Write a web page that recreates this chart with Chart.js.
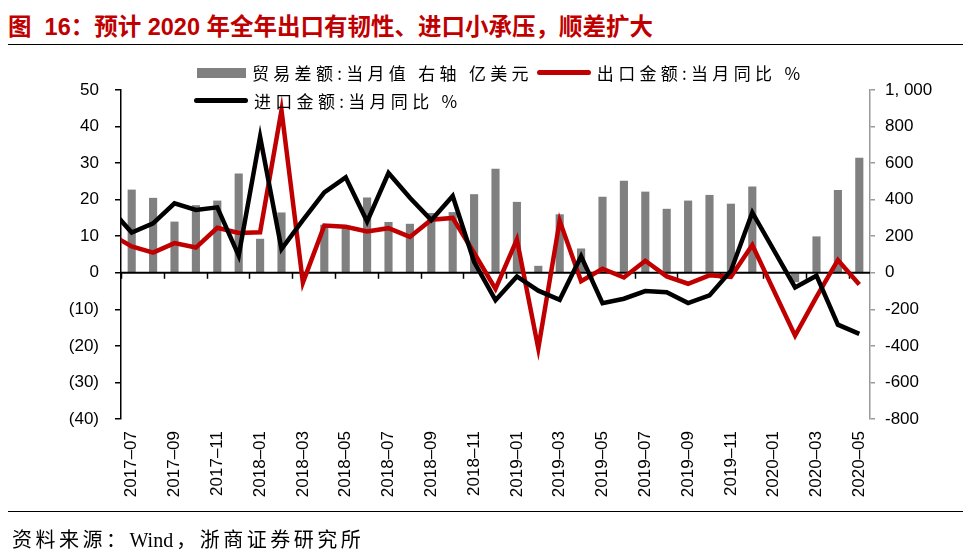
<!DOCTYPE html>
<html>
<head>
<meta charset="utf-8">
<script src="https://cdn.jsdelivr.net/npm/chart.js@4"></script>
<style>
  html, body { margin: 0; padding: 0; background: #fff; }
  #page { position: relative; width: 973px; height: 555px; overflow: hidden; }
  #box { position: absolute; left: 0; top: 0; width: 973px; height: 555px; }
  .title { position: absolute; left: 8px; top: 8px; font: bold 23.5px "Liberation Sans", "Noto Sans CJK SC", sans-serif; color: #C00000; white-space: pre; }
  .rule { position: absolute; left: 8px; width: 955px; height: 0; border-top: 1.5px solid #000; }
  .foot { position: absolute; left: 12px; top: 524px; font: 20px "Liberation Serif", "Noto Sans CJK SC", serif; letter-spacing: 3.5px; color: #000; white-space: pre; }
  .foot .en { letter-spacing: 0; margin-right: 3px; }
  .leg { position: absolute; display: flex; align-items: center; font: 17px "Noto Sans CJK SC", sans-serif; letter-spacing: 4.3px; color: #000; white-space: pre; }
  .sw { display: inline-block; margin-right: 6px; }
</style>
</head>
<body>
<div id="page">
  <div class="title">图  16：预计 2020 年全年出口有韧性、进口小承压，顺差扩大</div>
  <div class="rule" style="top:44px"></div>
  <div id="box"><canvas id="chart"></canvas></div>
  <div id="leg1" class="leg" style="left:197px; top:60px"></div>
  <div id="leg2" class="leg" style="left:194px; top:88px"></div>
  <div class="rule" style="top:511px"></div>
  <div class="foot">资料来源：<span class="en">Wind</span>，浙商证券研究所</div>
</div>
<script>
// 月份（首个月份只用于让折线从左轴处起笔）
var months = [
  '2017-06', '2017-07', '2017-08', '2017-09', '2017-10', '2017-11', '2017-12',
  '2018-01', '2018-02', '2018-03', '2018-04', '2018-05', '2018-06',
  '2018-07', '2018-08', '2018-09', '2018-10', '2018-11', '2018-12',
  '2019-01', '2019-02', '2019-03', '2019-04', '2019-05', '2019-06',
  '2019-07', '2019-08', '2019-09', '2019-10', '2019-11', '2019-12',
  '2020-01', '2020-02', '2020-03', '2020-04', '2020-05'
];

// 贸易差额:当月值 (亿美元, 右轴)
var tradeBalance = [
  null, 455, 410, 280, 370, 395, 543,
  186, 330, null, 263, 245, 412, 278, 268, 327, 332, 430, 569,
  388, 38, 320, 133, 416, 503, 444, 350, 395, 426, 378, 472,
  null, -52, 199, 453, 630
];

// 出口金额:当月同比 %
var exportYoy = [
  10.6, 7.2, 5.5, 8.1, 6.9, 12.3, 10.9,
  11.1, 44.5, -2.7, 12.9, 12.6, 11.3, 12.2, 9.8, 14.5, 15.0, 5.4, -4.4,
  9.1, -20.7, 14.2, -2.3, 1.1, -1.3, 3.3, -1.0, -3.0, -0.7, -1.1, 7.6,
  null, -17.2, -6.6, 3.5, -3.2
];

// 进口金额:当月同比 %
var importYoy = [
  17.6, 11.0, 13.5, 19.0, 17.2, 17.9, 4.7,
  37.2, 6.5, 14.4, 22.0, 26.1, 14.0, 27.3, 20.5, 14.4, 21.0, 3.0, -7.5,
  -1.0, -4.9, -7.4, 4.5, -8.3, -7.1, -5.0, -5.3, -8.3, -6.2, 0.5, 16.5,
  null, -4.0, -0.8, -14.2, -16.7
];

var seriesNames = ['贸易差额:当月值 右轴 亿美元', '出口金额:当月同比 %', '进口金额:当月同比 %'];
var seriesColors = ['#808080', '#C00000', '#000000'];

// 坐标轴刻度
var leftTicks = [-40, -30, -20, -10, 0, 10, 20, 30, 40, 50];
var rightTicks = [-800, -600, -400, -200, 0, 200, 400, 600, 800, 1000];

var axisFont = { family: 'Liberation Sans', size: 17 };

// 零轴线和横轴小刻度（每两个月一个），画在柱子之上、折线之下
var zeroAxis = {
  id: 'zeroAxis',
  afterDatasetDraw: function (chart, args) {
    if (args.index !== 0) return;
    var x = chart.scales.x, y = chart.scales.y, ctx = chart.ctx;
    var y0 = y.getPixelForValue(0);
    var step = x.getPixelForValue(2) - x.getPixelForValue(1);
    ctx.save();
    ctx.strokeStyle = '#000';
    ctx.lineWidth = 2;
    ctx.beginPath();
    ctx.moveTo(chart.chartArea.left, y0);
    ctx.lineTo(chart.chartArea.right, y0);
    ctx.stroke();
    ctx.lineWidth = 1.5;
    for (var i = 1; i < months.length; i += 2) {
      var px = Math.round(x.getPixelForValue(i) - step / 2) + 0.5;
      ctx.beginPath();
      ctx.moveTo(px, y0);
      ctx.lineTo(px, y0 + 6);
      ctx.stroke();
    }
    ctx.restore();
  }
};

var ctx = document.getElementById('chart').getContext('2d');
var myChart = new Chart(ctx, {
  data: {
    labels: months,
    datasets: [{
      type: 'bar',
      label: seriesNames[0],
      data: tradeBalance,
      yAxisID: 'y1',
      backgroundColor: seriesColors[0],
      barPercentage: 0.38,
      categoryPercentage: 1,
      clip: 0,
      order: 3
    }, {
      type: 'line',
      label: seriesNames[1],
      data: exportYoy,
      yAxisID: 'y',
      borderColor: seriesColors[1],
      borderWidth: 4.5,
      pointRadius: 0,
      spanGaps: true,
      tension: 0,
      order: 2
    }, {
      type: 'line',
      label: seriesNames[2],
      data: importYoy,
      yAxisID: 'y',
      borderColor: seriesColors[2],
      borderWidth: 4.5,
      pointRadius: 0,
      spanGaps: true,
      tension: 0,
      order: 1
    }]
  },
  options: {
    responsive: true,
    maintainAspectRatio: false,
    animation: false,
    layout: { padding: { top: 90, bottom: 48, left: 0, right: 0 } },
    plugins: {
      legend: { display: false },
      tooltip: { enabled: false }
    },
    scales: {
      x: {
        type: 'category',
        min: '2017-07',
        offset: true,
        grid: { display: false },
        border: { display: false },
        ticks: {
          autoSkip: false,
          minRotation: 90,
          maxRotation: 90,
          padding: 4,
          color: '#000',
          font: axisFont,
          callback: function (value, index) {
            return index % 2 === 0 ? this.getLabelForValue(value).replace('-', '–') : '';
          }
        },
        afterFit: function (s) { s.height = 88; }
      },
      y: {
        position: 'left',
        min: leftTicks[0],
        max: leftTicks[leftTicks.length - 1],
        afterBuildTicks: function (s) { s.ticks = leftTicks.map(function (v) { return { value: v }; }); },
        grid: { drawOnChartArea: false, color: '#000', lineWidth: 1.5, tickLength: 6 },
        border: { color: '#000', width: 1.5 },
        ticks: {
          color: '#000',
          font: axisFont,
          padding: 16,
          callback: function (v) { return v < 0 ? '(' + (-v) + ')' : String(v); }
        },
        afterFit: function (s) { s.width = 121; }
      },
      y1: {
        position: 'right',
        min: rightTicks[0],
        max: rightTicks[rightTicks.length - 1],
        afterBuildTicks: function (s) { s.ticks = rightTicks.map(function (v) { return { value: v }; }); },
        grid: { drawOnChartArea: false, color: '#999', lineWidth: 1.5, tickLength: 5 },
        border: { color: '#999', width: 1.5 },
        ticks: {
          color: '#000',
          font: axisFont,
          padding: 10,
          callback: function (v) { return v.toLocaleString('en-US').replace(',', ', '); }
        },
        afterFit: function (s) { s.width = 103; }
      }
    }
  },
  plugins: [zeroAxis]
});

// 图例（两行，与原图一致）
function legendItem(i, swatch) {
  var wrap = document.createElement('span');
  wrap.style.display = 'inline-flex';
  wrap.style.alignItems = 'center';
  var sw = document.createElement('span');
  sw.className = 'sw';
  if (swatch === 'box') {
    sw.style.width = '49px'; sw.style.height = '10px';
  } else {
    sw.style.width = '54px'; sw.style.height = '5px'; sw.style.borderRadius = '3px';
  }
  sw.style.background = seriesColors[i];
  var tx = document.createElement('span');
  tx.textContent = seriesNames[i];
  wrap.appendChild(sw);
  wrap.appendChild(tx);
  return wrap;
}
var leg1 = document.getElementById('leg1');
leg1.appendChild(legendItem(0, 'box'));
var second = legendItem(1, 'line');
second.style.marginLeft = '4px';
leg1.appendChild(second);
document.getElementById('leg2').appendChild(legendItem(2, 'line'));
</script>
</body>
</html>
